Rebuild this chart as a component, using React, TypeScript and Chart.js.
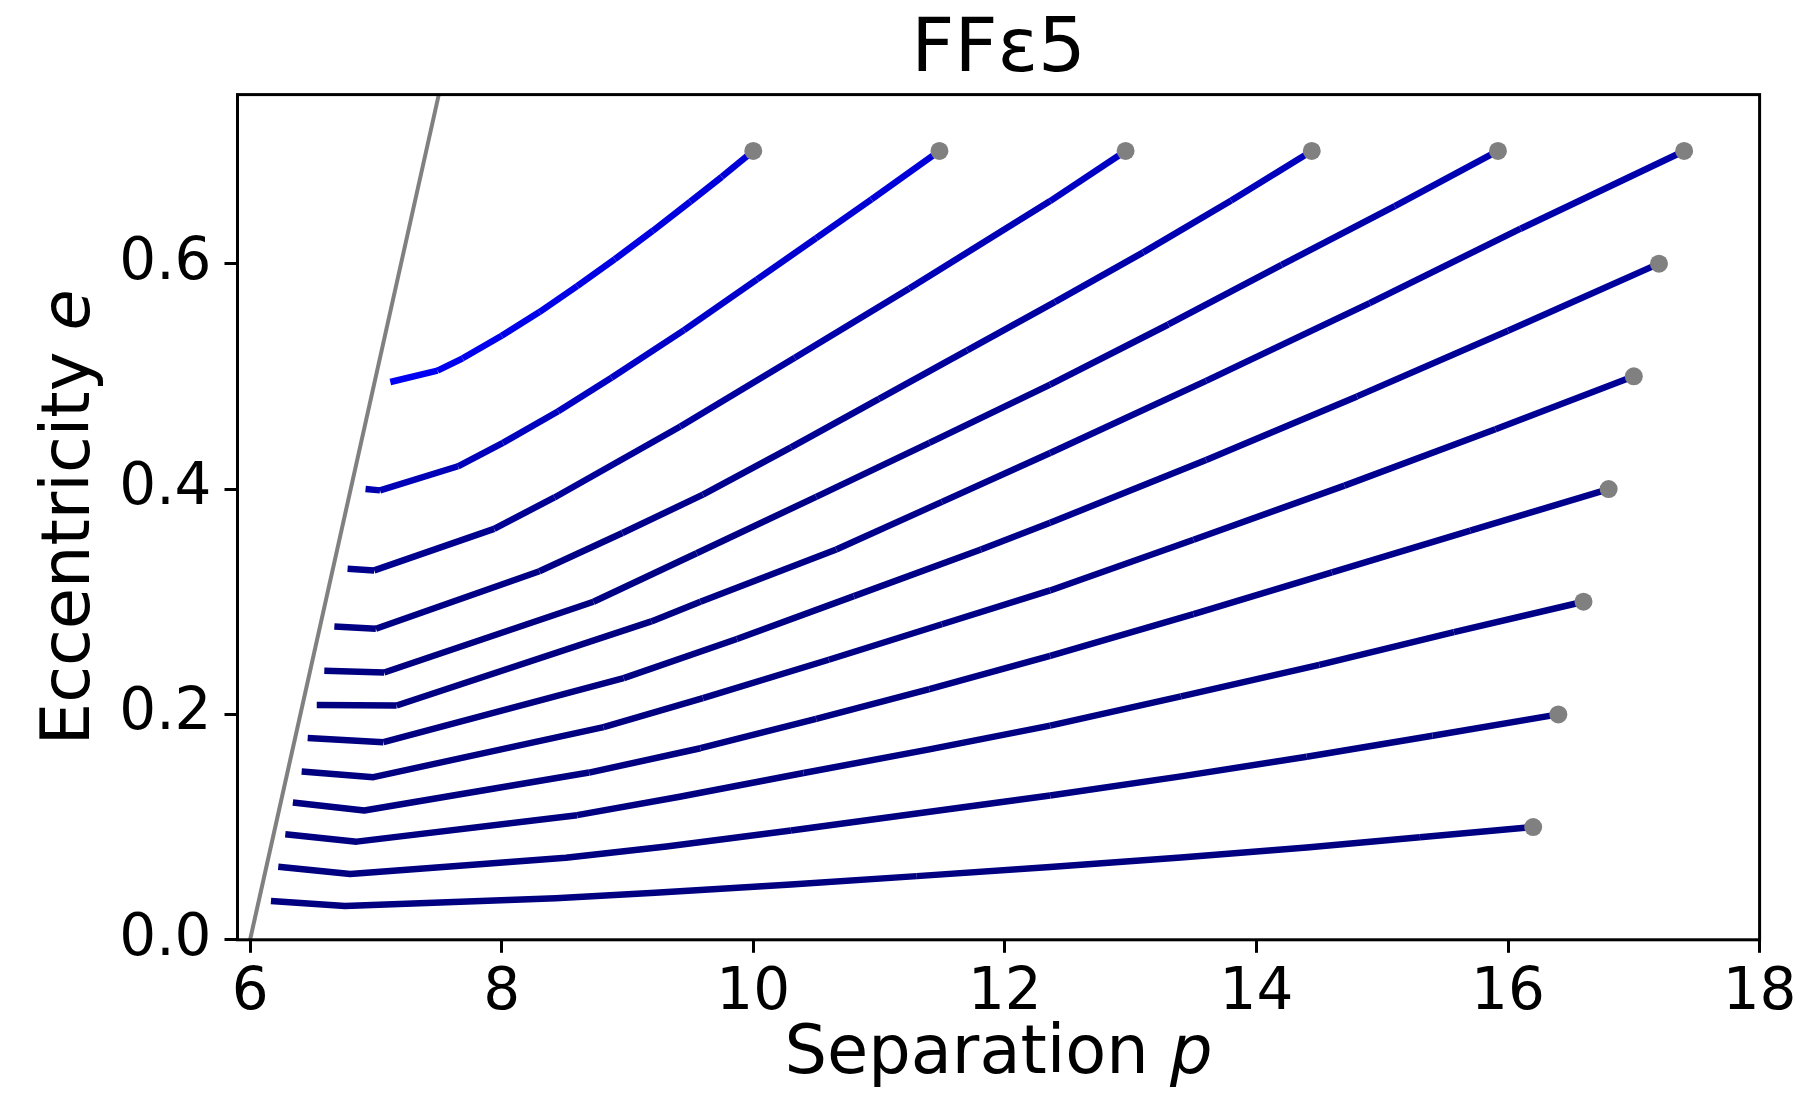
import React, { useEffect, useRef } from "react";
import { Chart, registerables } from "chart.js";

Chart.register(...registerables);

// ---- data ----
const titleText = "FFε5";
const xTicks = [6, 8, 10, 12, 14, 16, 18];
const xTickLabels = ["6", "8", "10", "12", "14", "16", "18"];
const yTicks = [0, 0.2, 0.4, 0.6];
const yTickLabels = ["0.0", "0.2", "0.4", "0.6"];

// separatrix p = 6 + 2e
const sepP = [6, 7.5];
const sepE = [0, 0.75];

const pA = [7.115, 7.49, 7.69, 8.0, 8.3, 8.6, 8.9, 9.2, 9.5, 9.75, 10.0];
const eA = [0.495, 0.505, 0.516, 0.536, 0.557, 0.58, 0.604, 0.629, 0.655, 0.677, 0.7];

const pB = [6.918, 7.033, 7.653, 8.01, 8.45, 8.873, 9.45, 10.03, 10.5, 10.94, 11.48];
const eB = [0.4, 0.3988, 0.4202, 0.441, 0.469, 0.4987, 0.541, 0.586, 0.6227, 0.657, 0.7];

const pC = [6.775, 6.987, 7.94, 8.42, 9.42, 10.33, 11.24, 12.36, 12.96];
const eC = [0.3293, 0.3278, 0.3646, 0.3925, 0.4555, 0.5165, 0.578, 0.6555, 0.7];

const pD = [6.67, 7.0, 8.3, 8.96, 9.6, 10.3, 11.0, 11.7, 12.4, 13.1, 13.8, 14.44];
const eD = [0.278, 0.276, 0.327, 0.361, 0.395, 0.437, 0.48, 0.523, 0.566, 0.61, 0.656, 0.7];

const pE = [6.59, 7.066, 8.73, 9.55, 10.5, 11.4, 12.36, 13.3, 14.2, 15.1, 15.92];
const eE = [0.2387, 0.2372, 0.3, 0.343, 0.393, 0.441, 0.4927, 0.546, 0.599, 0.651, 0.7];

const pF = [6.53, 7.165, 9.19, 9.58, 10.66, 11.5, 12.36, 13.6, 14.9, 16.1, 17.4];
const eF = [0.2083, 0.2079, 0.2825, 0.3, 0.3463, 0.3886, 0.432, 0.496, 0.565, 0.631, 0.7];

const pG = [6.458, 7.06, 8.97, 9.87, 10.8, 11.81, 12.36, 13.6, 14.8, 16.0, 17.2];
const eG = [0.179, 0.1754, 0.2322, 0.2669, 0.305, 0.3463, 0.37, 0.4258, 0.4822, 0.5404, 0.6];

const pH = [6.41, 6.98, 8.81, 9.6, 10.6, 11.5, 12.36, 13.5, 14.7, 15.9, 17.0];
const eH = [0.1493, 0.1443, 0.1887, 0.2145, 0.2485, 0.28, 0.31, 0.355, 0.403, 0.453, 0.5];

const pI = [6.34, 6.907, 8.695, 9.58, 10.5, 11.4, 12.36, 13.5, 14.6, 15.7, 16.8];
const eI = [0.1218, 0.1147, 0.1484, 0.17, 0.196, 0.2225, 0.252, 0.289, 0.326, 0.363, 0.4];

const pJ = [6.28, 6.847, 8.6, 9.415, 10.4, 11.4, 12.36, 13.4, 14.5, 15.57, 16.6];
const eJ = [0.0937, 0.0871, 0.1106, 0.127, 0.148, 0.169, 0.19, 0.216, 0.244, 0.273, 0.3];

const pK = [6.224, 6.796, 8.51, 9.31, 10.3, 11.3, 12.36, 13.4, 14.4, 15.4, 16.4];
const eK = [0.0649, 0.0584, 0.0729, 0.0827, 0.097, 0.112, 0.128, 0.145, 0.1625, 0.181, 0.2];

const pL = [6.166, 6.754, 8.43, 9.22, 10.3, 11.3, 12.36, 13.4, 14.4, 15.3, 16.2];
const eL = [0.0345, 0.03, 0.0368, 0.0418, 0.049, 0.0565, 0.0645, 0.073, 0.082, 0.091, 0.1];

const endP = [10.0, 11.48, 12.96, 14.44, 15.92, 17.4, 17.2, 17.0, 16.8, 16.6, 16.4, 16.2];
const endE = [0.7, 0.7, 0.7, 0.7, 0.7, 0.7, 0.6, 0.5, 0.4, 0.3, 0.2, 0.1];

// ---- styles ----
const tracks: [number[], number[]][] = [
  [pA, eA], [pB, eB], [pC, eC], [pD, eD], [pE, eE], [pF, eF],
  [pG, eG], [pH, eH], [pI, eI], [pJ, eJ], [pK, eK], [pL, eL],
];
const blueRange: [number, number][] = [
  [245, 215], [175, 220], [140, 205], [132, 195], [128, 185], [128, 175],
  [128, 160], [128, 150], [128, 142], [128, 136], [128, 132], [128, 130],
];
const FONT = '"DejaVu Sans", "Liberation Sans", sans-serif';

function zip(xs: number[], ys: number[]) {
  return xs.map((x, i) => ({ x, y: ys[i] }));
}

function drawMixed(ctx: CanvasRenderingContext2D, parts: [string, string][], cx: number, y: number) {
  let total = 0;
  const widths = parts.map(([t, f]) => {
    ctx.font = f;
    const w = ctx.measureText(t).width;
    total += w;
    return w;
  });
  let x = cx - total / 2;
  ctx.textAlign = "left";
  parts.forEach(([t, f], i) => {
    ctx.font = f;
    ctx.fillText(t, x, y);
    x += widths[i];
  });
}

const textPlugin = {
  id: "texts",
  afterDraw(chart: any) {
    const { ctx, chartArea: a } = chart;
    ctx.save();
    ctx.strokeStyle = "#000";
    ctx.lineWidth = 3;
    ctx.strokeRect(a.left, a.top, a.right - a.left, a.bottom - a.top);
    ctx.fillStyle = "#000";
    ctx.textBaseline = "alphabetic";
    ctx.textAlign = "center";
    ctx.font = `75px ${FONT}`;
    ctx.fillText(titleText, (a.left + a.right) / 2, 71);
    const normal = `67px ${FONT}`;
    const italic = `italic 67px ${FONT}`;
    drawMixed(ctx, [["Separation ", normal], ["p", italic]], (a.left + a.right) / 2, 1073);
    ctx.translate(89, (a.top + a.bottom) / 2);
    ctx.rotate(-Math.PI / 2);
    drawMixed(ctx, [["Eccentricity ", normal], ["e", italic]], 0, 0);
    ctx.restore();
  },
};

export default function App() {
  const ref = useRef<HTMLCanvasElement | null>(null);

  useEffect(() => {
    if (!ref.current) return;
    const lineSets = tracks.map(([ps, es], i) => {
      const n = ps.length;
      const [b0, b1] = blueRange[i];
      return {
        type: "line" as const,
        data: zip(ps, es),
        showLine: true,
        borderColor: `rgb(0,0,${b0})`,
        borderWidth: 6.5,
        borderCapStyle: "butt" as const,
        borderJoinStyle: "round" as const,
        pointRadius: 0,
        pointHoverRadius: 0,
        tension: 0,
        fill: false,
        order: 1,
        segment: {
          borderColor: (c: any) => {
            const t = (c.p0DataIndex + 0.5) / (n - 1);
            const tt = i < 2 ? t : t * t;
            return `rgb(0,0,${Math.round(b0 + (b1 - b0) * tt)})`;
          },
        },
      };
    });

    const chart = new Chart(ref.current, {
      type: "scatter",
      data: {
        datasets: [
          {
            data: zip(endP, endE),
            pointRadius: 9,
            pointHoverRadius: 9,
            pointBackgroundColor: "#808080",
            pointBorderWidth: 0,
            showLine: false,
            order: 0,
          } as any,
          ...lineSets,
          {
            type: "line",
            data: zip(sepP, sepE),
            showLine: true,
            borderColor: "#808080",
            borderWidth: 4,
            pointRadius: 0,
            tension: 0,
            fill: false,
            order: 2,
          } as any,
        ],
      },
      options: {
        responsive: false,
        animation: false,
        events: [],
        layout: { padding: { top: 94.6, right: 48.4, left: 0, bottom: 0 } },
        plugins: {
          legend: { display: false },
          title: { display: false },
          tooltip: { enabled: false },
        },
        scales: {
          x: {
            type: "linear",
            min: 5.9,
            max: 18,
            afterBuildTicks: (s: any) => {
              s.ticks = xTicks.map((v) => ({ value: v }));
            },
            afterFit: (s: any) => {
              s.height = 153.2;
            },
            ticks: {
              callback: (_v: any, i: number) => xTickLabels[i],
              font: { family: FONT, size: 58 },
              color: "#000",
              padding: 6,
              maxRotation: 0,
              autoSkip: false,
            },
            grid: { drawOnChartArea: false, drawTicks: true, tickLength: 13, lineWidth: 3, color: "#000" },
            border: { display: false },
          },
          y: {
            type: "linear",
            min: 0,
            max: 0.75,
            afterBuildTicks: (s: any) => {
              s.ticks = yTicks.map((v) => ({ value: v }));
            },
            afterFit: (s: any) => {
              s.width = 237.5;
            },
            ticks: {
              callback: (_v: any, i: number) => yTickLabels[i],
              font: { family: FONT, size: 58 },
              color: "#000",
              padding: 13,
              autoSkip: false,
            },
            grid: { drawOnChartArea: false, drawTicks: true, tickLength: 13, lineWidth: 3, color: "#000" },
            border: { display: false },
          },
        },
      },
      plugins: [textPlugin],
    } as any);
    return () => chart.destroy();
  }, []);

  return (
    <div style={{ position: "absolute", left: 0, top: 0, width: 1808, height: 1093, background: "#fff" }}>
      <canvas ref={ref} width={1808} height={1093} style={{ display: "block", width: 1808, height: 1093 }} />
    </div>
  );
}
